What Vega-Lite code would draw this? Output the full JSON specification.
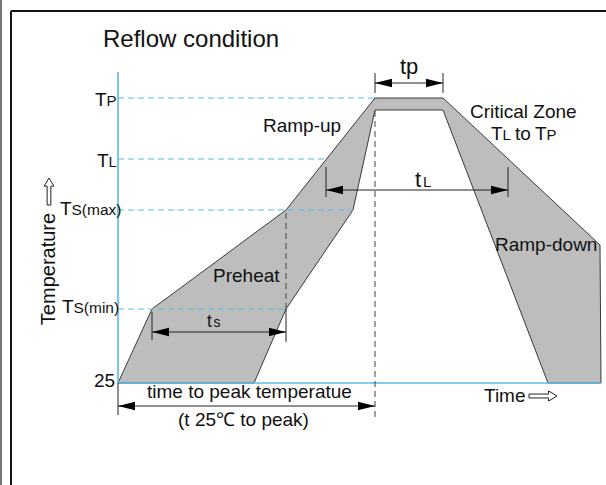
{
  "$schema": "https://vega.github.io/schema/vega-lite/v6.json",
  "width": 606,
  "height": 485,
  "autosize": {"type": "none"},
  "padding": 0,
  "background": "white",
  "config": {"view": {"stroke": null}, "text": {"font": "Liberation Sans"}},
  "datasets": {
    "frame": [
      {"x": -107, "x2": 488, "y": 372, "y2": 372, "c": "k"},
      {"x": -107, "x2": -107, "y": 372, "y2": -102, "c": "k"},
      {"x": -117, "x2": -117, "y": 383, "y2": -102, "c": "g"}
    ],
    "profile": [
      {"i": 0, "t": 0, "temp": 0},
      {"i": 1, "t": 34, "temp": 74},
      {"i": 2, "t": 168, "temp": 173},
      {"i": 3, "t": 257, "temp": 285},
      {"i": 4, "t": 325, "temp": 285},
      {"i": 5, "t": 482, "temp": 138},
      {"i": 6, "t": 483, "temp": 0},
      {"i": 7, "t": 430, "temp": 0},
      {"i": 8, "t": 325, "temp": 273},
      {"i": 9, "t": 257, "temp": 273},
      {"i": 10, "t": 235, "temp": 173},
      {"i": 11, "t": 168, "temp": 74},
      {"i": 12, "t": 136, "temp": 0},
      {"i": 13, "t": 0, "temp": 0}
    ],
    "axes": [
      {"x": 0, "x2": 0, "y": 0, "y2": 311},
      {"x": 0, "x2": 483, "y": 0, "y2": 0}
    ],
    "levels": [
      {"x": 0, "x2": 257, "y": 285},
      {"x": 0, "x2": 208, "y": 224},
      {"x": 0, "x2": 235, "y": 173},
      {"x": 0, "x2": 168, "y": 74}
    ],
    "vdash": [
      {"x": 168, "y": 74, "y2": 173},
      {"x": 257, "y": -34, "y2": 273}
    ],
    "dims": [
      {"x": 257, "x2": 325, "y": 300, "y2": 300},
      {"x": 257, "x2": 257, "y": 290, "y2": 310},
      {"x": 325, "x2": 325, "y": 290, "y2": 310},
      {"x": 208, "x2": 390, "y": 193, "y2": 193},
      {"x": 208, "x2": 208, "y": 186, "y2": 216},
      {"x": 390, "x2": 390, "y": 186, "y2": 216},
      {"x": 34, "x2": 168, "y": 51, "y2": 51},
      {"x": 34, "x2": 34, "y": 43, "y2": 71},
      {"x": 168, "x2": 168, "y": 41, "y2": 74},
      {"x": 0, "x2": 257, "y": -23, "y2": -23},
      {"x": 0, "x2": 0, "y": 0, "y2": -32}
    ],
    "heads": [
      {"x": 257, "y": 300, "d": "L"},
      {"x": 325, "y": 300, "d": "R"},
      {"x": 208, "y": 193, "d": "L"},
      {"x": 390, "y": 193, "d": "R"},
      {"x": 34, "y": 51, "d": "L"},
      {"x": 168, "y": 51, "d": "R"},
      {"x": 0, "y": -23, "d": "L"},
      {"x": 257, "y": -23, "d": "R"}
    ],
    "glyphs": [
      {"x": 425, "y": -13, "d": "right", "sz": 784},
      {"x": -69, "y": 191.5, "d": "up", "sz": 729}
    ],
    "labels": [
      {"x": -23, "y": 277, "s": 19, "text": "T"},
      {"x": -11.5, "y": 277, "s": 15, "text": "P"},
      {"x": -21, "y": 216, "s": 19, "text": "T"},
      {"x": -9.5, "y": 216, "s": 15, "text": "L"},
      {"x": -58, "y": 168, "s": 19, "text": "T"},
      {"x": -46.5, "y": 168, "s": 15.5, "text": "S(max)"},
      {"x": -56, "y": 70, "s": 19, "text": "T"},
      {"x": -44.5, "y": 70, "s": 15.5, "text": "S(min)"},
      {"x": -24, "y": -4, "s": 19, "text": "25"},
      {"x": -15, "y": 336, "s": 24, "text": "Reflow condition"},
      {"x": 145, "y": 251, "s": 19, "text": "Ramp-up"},
      {"x": 352, "y": 265, "s": 19, "text": "Critical Zone"},
      {"x": 373, "y": 243, "s": 19, "text": "T"},
      {"x": 384.5, "y": 243, "s": 15, "text": "L"},
      {"x": 397, "y": 243, "s": 19, "text": "to"},
      {"x": 417, "y": 243, "s": 19, "text": "T"},
      {"x": 428.5, "y": 243, "s": 15, "text": "P"},
      {"x": 297, "y": 196, "s": 22, "text": "t"},
      {"x": 305, "y": 196, "s": 15, "text": "L"},
      {"x": 282, "y": 309, "s": 22, "text": "tp"},
      {"x": 377, "y": 132, "s": 19, "text": "Ramp-down"},
      {"x": 95, "y": 101, "s": 19, "text": "Preheat"},
      {"x": 89, "y": 56, "s": 17.5, "text": "t"},
      {"x": 95.5, "y": 56, "s": 14, "text": "s"},
      {"x": 29, "y": -15, "s": 19, "text": "time to peak temperatue"},
      {"x": 60, "y": -43, "s": 19, "text": "(t 25℃ to peak)"},
      {"x": 366, "y": -19, "s": 19, "text": "Time"}
    ],
    "rotated": [
      {"x": -63, "y": 114, "s": 20, "text": "Temperature"}
    ]
  },
  "layer": [
    {
      "data": {"name": "frame"},
      "mark": {"type": "rule", "strokeWidth": 2},
      "encoding": {
        "x": {"field": "x", "type": "quantitative", "scale": {"domain": [-118, 488], "nice": false, "zero": false}, "axis": null},
        "x2": {"field": "x2"},
        "y": {"field": "y", "type": "quantitative", "scale": {"domain": [-102, 383], "nice": false, "zero": false}, "axis": null},
        "y2": {"field": "y2"},
        "color": {"field": "c", "type": "nominal", "scale": {"domain": ["k", "g"], "range": ["#111111", "#777777"]}, "legend": null}
      }
    },
    {
      "data": {"name": "profile"},
      "mark": {"type": "line", "fill": "#bdbdbd", "stroke": "#3a3a3a", "strokeWidth": 1},
      "encoding": {
        "x": {"field": "t", "type": "quantitative"},
        "y": {"field": "temp", "type": "quantitative"},
        "order": {"field": "i", "type": "quantitative"}
      }
    },
    {
      "data": {"name": "levels"},
      "mark": {"type": "rule", "stroke": "#55c0dd", "strokeWidth": 1.2, "strokeDash": [6, 4]},
      "encoding": {
        "x": {"field": "x", "type": "quantitative"},
        "x2": {"field": "x2"},
        "y": {"field": "y", "type": "quantitative"}
      }
    },
    {
      "data": {"name": "axes"},
      "mark": {"type": "rule", "stroke": "#5db8e6", "strokeWidth": 1.6},
      "encoding": {
        "x": {"field": "x", "type": "quantitative"},
        "x2": {"field": "x2"},
        "y": {"field": "y", "type": "quantitative"},
        "y2": {"field": "y2"}
      }
    },
    {
      "data": {"name": "vdash"},
      "mark": {"type": "rule", "stroke": "#444444", "strokeWidth": 1, "strokeDash": [6, 4]},
      "encoding": {
        "x": {"field": "x", "type": "quantitative"},
        "y": {"field": "y", "type": "quantitative"},
        "y2": {"field": "y2"}
      }
    },
    {
      "data": {"name": "dims"},
      "mark": {"type": "rule", "stroke": "#222222", "strokeWidth": 1},
      "encoding": {
        "x": {"field": "x", "type": "quantitative"},
        "x2": {"field": "x2"},
        "y": {"field": "y", "type": "quantitative"},
        "y2": {"field": "y2"}
      }
    },
    {
      "data": {"name": "heads"},
      "mark": {"type": "point", "filled": true, "color": "#000000", "opacity": 1, "size": 289, "strokeWidth": 0},
      "encoding": {
        "x": {"field": "x", "type": "quantitative"},
        "y": {"field": "y", "type": "quantitative"},
        "shape": {"field": "d", "type": "nominal", "scale": {"domain": ["L", "R", "right", "up"], "range": ["M0,0L2,-0.5L2,0.5Z", "M0,0L-2,-0.5L-2,0.5Z", "M-1,-0.14L0.4,-0.14L0.4,-0.36L1,0L0.4,0.36L0.4,0.14L-1,0.14Z", "M-0.14,1L-0.14,-0.4L-0.36,-0.4L0,-1L0.36,-0.4L0.14,-0.4L0.14,1Z"]}, "legend": null}
      }
    },
    {
      "data": {"name": "glyphs"},
      "mark": {"type": "point", "filled": false, "fill": "#ffffff", "fillOpacity": 1, "stroke": "#222222", "strokeWidth": 1, "opacity": 1},
      "encoding": {
        "x": {"field": "x", "type": "quantitative"},
        "y": {"field": "y", "type": "quantitative"},
        "size": {"field": "sz", "type": "quantitative", "scale": null},
        "shape": {"field": "d", "type": "nominal", "legend": null}
      }
    },
    {
      "data": {"name": "labels"},
      "mark": {"type": "text", "align": "left", "baseline": "alphabetic", "color": "#111111", "font": "Liberation Sans"},
      "encoding": {
        "x": {"field": "x", "type": "quantitative"},
        "y": {"field": "y", "type": "quantitative"},
        "text": {"field": "text"},
        "size": {"field": "s", "type": "quantitative", "scale": null}
      }
    },
    {
      "data": {"name": "rotated"},
      "mark": {"type": "text", "align": "center", "baseline": "alphabetic", "angle": 270, "color": "#111111", "font": "Liberation Sans"},
      "encoding": {
        "x": {"field": "x", "type": "quantitative"},
        "y": {"field": "y", "type": "quantitative"},
        "text": {"field": "text"},
        "size": {"field": "s", "type": "quantitative", "scale": null}
      }
    }
  ]
}
